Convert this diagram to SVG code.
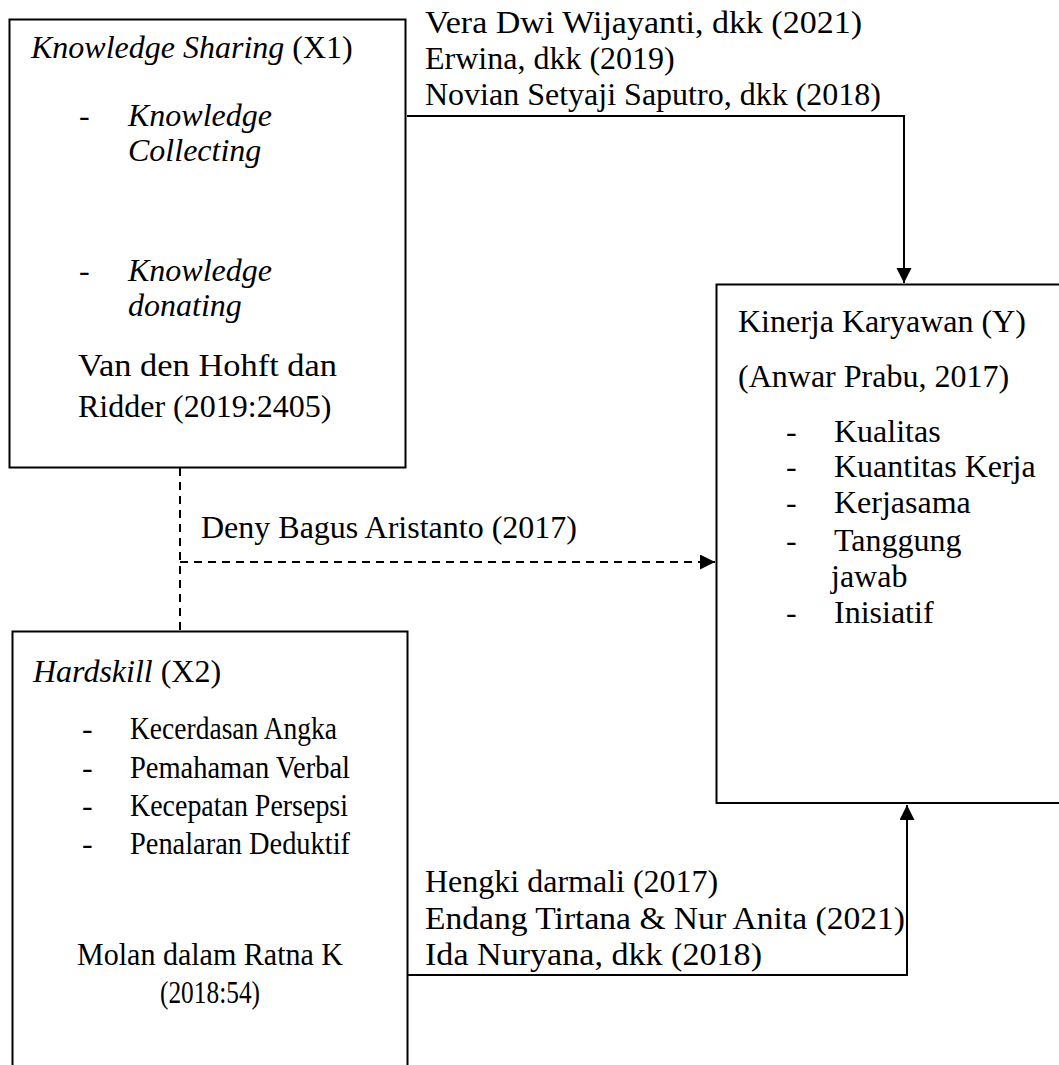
<svg xmlns="http://www.w3.org/2000/svg" width="1059" height="1065" viewBox="0 0 1059 1065">
<style>
.box{fill:#fff;stroke:#000;stroke-width:2}
.t{font-family:"Liberation Serif","Times New Roman",serif;font-size:32px;fill:#000}
.i{font-style:italic}
.ln{fill:none;stroke:#000;stroke-width:2}
.dash{fill:none;stroke:#000;stroke-width:2;stroke-dasharray:8,6}
</style>
<defs>
<marker id="arr" markerUnits="userSpaceOnUse" markerWidth="16" markerHeight="16" refX="15" refY="7.5" orient="auto">
<path d="M0,0 L15,7.5 L0,15 Z" fill="#000"/>
</marker>
</defs>
<g id="connectors">
<path class="ln" d="M407,116 H904 V283" marker-end="url(#arr)"/>
<path class="dash" d="M180,468 V631"/>
<path class="dash" d="M180,562 H715" marker-end="url(#arr)"/>
<path class="ln" d="M408,975 H907 V805" marker-end="url(#arr)"/>
<text class="t" x="425" y="33" textLength="437" lengthAdjust="spacingAndGlyphs">Vera Dwi Wijayanti, dkk (2021)</text>
<text class="t" x="425" y="69">Erwina, dkk (2019)</text>
<text class="t" x="425" y="105">Novian Setyaji Saputro, dkk (2018)</text>
<text class="t" x="201" y="538">Deny Bagus Aristanto (2017)</text>
<text class="t" x="425" y="892">Hengki darmali (2017)</text>
<text class="t" x="425" y="929" textLength="480" lengthAdjust="spacingAndGlyphs">Endang Tirtana &amp; Nur Anita (2021)</text>
<text class="t" x="425" y="965" textLength="337" lengthAdjust="spacingAndGlyphs">Ida Nuryana, dkk (2018)</text>
</g>
<g id="x1">
<rect class="box" x="9.5" y="19.5" width="396" height="448"/>
<text class="t" x="31" y="58"><tspan class="i">Knowledge Sharing</tspan> (X1)</text>
<text class="t" x="79" y="126">-</text>
<text class="t i" x="128" y="126">Knowledge</text>
<text class="t i" x="128" y="161">Collecting</text>
<text class="t" x="79" y="281">-</text>
<text class="t i" x="128" y="281">Knowledge</text>
<text class="t i" x="128" y="316">donating</text>
<text class="t" x="78" y="376" textLength="259" lengthAdjust="spacingAndGlyphs">Van den Hohft dan</text>
<text class="t" x="78" y="417">Ridder (2019:2405)</text>
</g>
<g id="x2">
<rect class="box" x="12.5" y="631.5" width="395" height="460"/>
<text class="t" x="33" y="682"><tspan class="i">Hardskill</tspan> (X2)</text>
<text class="t" x="82" y="739">-</text>
<text class="t" x="130" y="739" textLength="207" lengthAdjust="spacingAndGlyphs">Kecerdasan Angka</text>
<text class="t" x="82" y="778">-</text>
<text class="t" x="130" y="778" textLength="220" lengthAdjust="spacingAndGlyphs">Pemahaman Verbal</text>
<text class="t" x="82" y="816">-</text>
<text class="t" x="130" y="816" textLength="218" lengthAdjust="spacingAndGlyphs">Kecepatan Persepsi</text>
<text class="t" x="82" y="854">-</text>
<text class="t" x="130" y="854" textLength="220" lengthAdjust="spacingAndGlyphs">Penalaran Deduktif</text>
<text class="t" x="77" y="965" textLength="266" lengthAdjust="spacingAndGlyphs">Molan dalam Ratna K</text>
<text class="t" x="160" y="1003" textLength="100" lengthAdjust="spacingAndGlyphs">(2018:54)</text>
</g>
<g id="y">
<rect class="box" x="716.5" y="284.5" width="360" height="518.5"/>
<text class="t" x="738" y="332">Kinerja Karyawan (Y)</text>
<text class="t" x="738" y="387">(Anwar Prabu, 2017)</text>
<text class="t" x="786" y="442">-</text>
<text class="t" x="834" y="442">Kualitas</text>
<text class="t" x="786" y="477">-</text>
<text class="t" x="834" y="477">Kuantitas Kerja</text>
<text class="t" x="786" y="513">-</text>
<text class="t" x="834" y="513">Kerjasama</text>
<text class="t" x="786" y="551">-</text>
<text class="t" x="834" y="551">Tanggung</text>
<text class="t" x="831" y="587">jawab</text>
<text class="t" x="786" y="623">-</text>
<text class="t" x="834" y="623">Inisiatif</text>
</g>
</svg>
